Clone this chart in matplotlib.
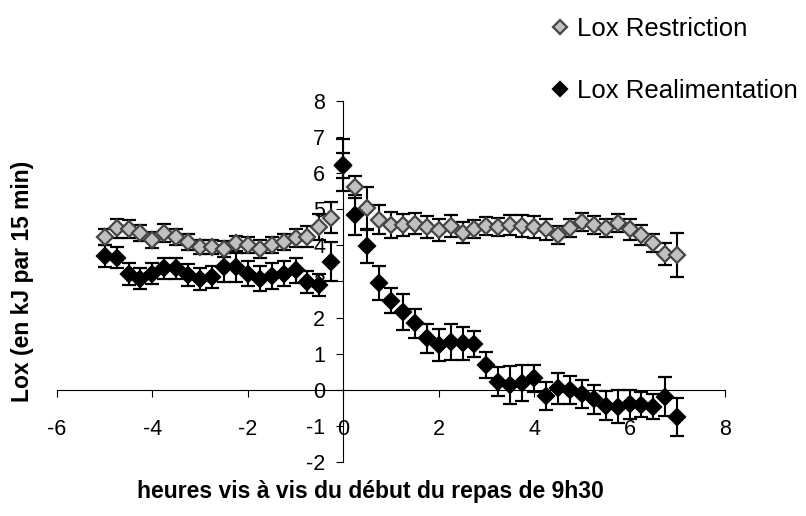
import numpy as np
import matplotlib
matplotlib.use("Agg")
import matplotlib.pyplot as plt

plt.rcParams["font.family"] = ["Liberation Sans", "DejaVu Sans"]
plt.rcParams["axes.unicode_minus"] = False

# hours relative to the 9h30 meal, one point every 15 min
hours = np.arange(-5, 7.25, 0.25)

# Lox Restriction (grey diamonds)
lox_restriction = [4.22, 4.47, 4.44, 4.33, 4.14, 4.33, 4.24, 4.10, 3.96, 3.96,
                   3.91, 4.05, 4.00, 3.91, 4.00, 4.10, 4.19, 4.24, 4.51, 4.76,
                   6.20, 5.62, 5.02, 4.71, 4.56, 4.56, 4.60, 4.51, 4.42, 4.53,
                   4.35, 4.44, 4.53, 4.51, 4.56, 4.53, 4.50, 4.44, 4.28, 4.47,
                   4.65, 4.56, 4.49, 4.62, 4.44, 4.28, 4.07, 3.76, 3.73]
err_restriction = [0.22, 0.27, 0.25, 0.22, 0.22, 0.25, 0.22, 0.22, 0.20, 0.20,
                   0.22, 0.22, 0.22, 0.25, 0.22, 0.22, 0.25, 0.28, 0.35, 0.43,
                   0.35, 0.30, 0.60, 0.40, 0.35, 0.30, 0.30, 0.30, 0.30, 0.30,
                   0.30, 0.25, 0.25, 0.25, 0.28, 0.30, 0.30, 0.28, 0.25, 0.25,
                   0.25, 0.25, 0.25, 0.25, 0.28, 0.28, 0.25, 0.30, 0.62]

# Lox Realimentation (black diamonds)
lox_realim = [3.70, 3.66, 3.20, 3.08, 3.22, 3.36, 3.36, 3.18, 3.06, 3.13,
              3.39, 3.39, 3.22, 3.08, 3.15, 3.22, 3.31, 2.99, 2.90, 3.55,
              6.22, 4.83, 3.98, 2.96, 2.47, 2.16, 1.84, 1.43, 1.24, 1.33,
              1.29, 1.27, 0.69, 0.23, 0.14, 0.20, 0.32, -0.17, 0.05, 0.00,
              -0.11, -0.26, -0.44, -0.46, -0.39, -0.41, -0.46, -0.18, -0.74]
err_realim = [0.30, 0.30, 0.30, 0.30, 0.30, 0.30, 0.30, 0.30, 0.30, 0.30,
              0.40, 0.40, 0.35, 0.35, 0.35, 0.35, 0.35, 0.30, 0.30, 0.55,
              0.72, 0.55, 0.48, 0.48, 0.35, 0.50, 0.40, 0.40, 0.45, 0.50,
              0.45, 0.37, 0.37, 0.40, 0.53, 0.50, 0.37, 0.38, 0.43, 0.38,
              0.40, 0.40, 0.40, 0.45, 0.40, 0.35, 0.35, 0.55, 0.52]

fig = plt.figure(figsize=(8.06, 5.16), dpi=100)
ax = fig.add_axes([0.0707, 0.104, 0.8288, 0.701])

ax.errorbar(hours, lox_restriction, yerr=err_restriction, fmt="D", ms=7.8,
            mfc="#c0c0c0", mec="#454545", mew=1.6, ecolor="black",
            elinewidth=1.5, capsize=5, capthick=1.5, label="Lox Restriction")
ax.errorbar(hours, lox_realim, yerr=err_realim, fmt="D", ms=7.8,
            mfc="black", mec="black", mew=1.6, ecolor="black",
            elinewidth=1.5, capsize=5, capthick=1.5, label="Lox Realimentation")

ax.set_xlim(-6, 8)
ax.set_ylim(-2, 8)
ax.set_xticks(range(-6, 9, 2))
ax.set_yticks(range(-2, 9))

# axes crossing at the origin
ax.spines["left"].set_position(("data", 0))
ax.spines["bottom"].set_position(("data", 0))
ax.spines["top"].set_visible(False)
ax.spines["right"].set_visible(False)
ax.spines["left"].set_linewidth(0.8)
ax.spines["bottom"].set_linewidth(0.8)

ax.tick_params(axis="x", direction="out", length=5, width=0.8, pad=16, labelsize=15.5)
ax.tick_params(axis="y", direction="out", length=5, width=0.8, pad=8, labelsize=15.5)

fig.text(0.0285, 0.455, "Lox (en kJ par 15 min)", rotation=90, ha="center",
         va="center", fontsize=16.5, fontweight="bold")
fig.text(0.459, 0.047, "heures vis à vis du début du repas de 9h30", ha="center",
         va="center", fontsize=16.5, fontweight="bold")

handles, labels = ax.get_legend_handles_labels()
handles = [h[0] for h in handles]
fig.legend(handles, labels, loc="upper left", bbox_to_anchor=(0.655, 1.012),
           frameon=False, fontsize=18.5, handlelength=0.7, handletextpad=0.3,
           labelspacing=1.5, markerscale=0.85)

fig.savefig("out.png", dpi=100)
